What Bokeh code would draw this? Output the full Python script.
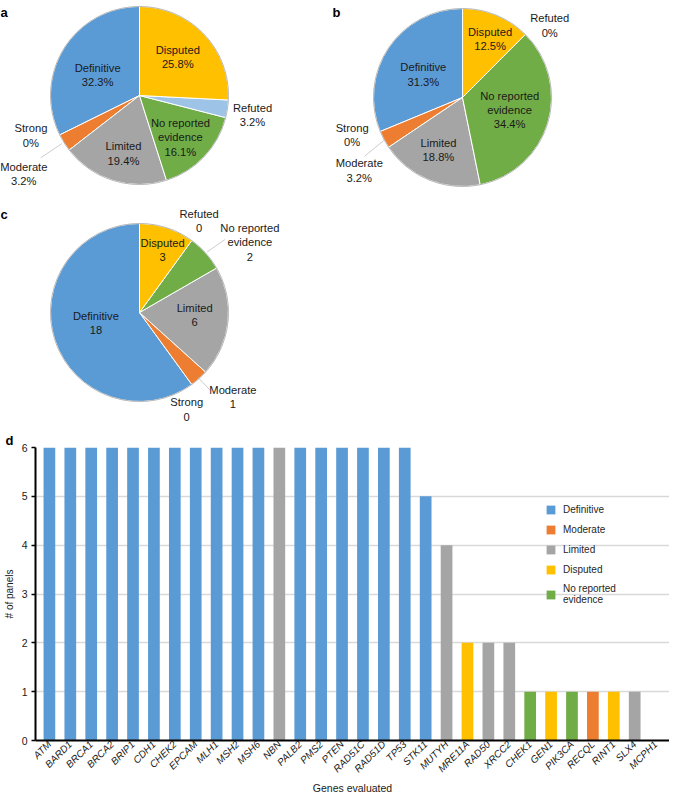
import math
from bokeh.plotting import figure
from bokeh.models import Range1d, FactorRange, ColumnDataSource, Legend, LegendItem, Label
from bokeh.layouts import column
from bokeh.embed import file_html
from bokeh.resources import INLINE

# ---------------- data ----------------
pie_categories = ["Definitive", "Strong", "Moderate", "Limited",
                  "No reported evidence", "Refuted", "Disputed"]
panel_a_pct = [32.3, 0, 3.2, 19.4, 16.1, 3.2, 25.8]
panel_b_pct = [31.3, 0, 3.2, 18.8, 34.4, 0, 12.5]
panel_c_counts = [18, 0, 1, 6, 2, 0, 3]

genes = ["ATM", "BARD1", "BRCA1", "BRCA2", "BRIP1", "CDH1", "CHEK2", "EPCAM",
         "MLH1", "MSH2", "MSH6", "NBN", "PALB2", "PMS2", "PTEN", "RAD51C",
         "RAD51D", "TP53", "STK11", "MUTYH", "MRE11A", "RAD50", "XRCC2",
         "CHEK1", "GEN1", "PIK3CA", "RECQL", "RINT1", "SLX4", "MCPH1"]
panels = [6, 6, 6, 6, 6, 6, 6, 6, 6, 6, 6, 6, 6, 6, 6, 6, 6, 6, 5, 4, 2, 2, 2,
          1, 1, 1, 1, 1, 1, 0]
evidence = ["Definitive"] * 11 + ["Limited"] + ["Definitive"] * 7 + [
    "Limited", "Disputed", "Limited", "Limited", "No reported evidence",
    "Disputed", "No reported evidence", "Moderate", "Disputed", "Limited",
    "Limited"]
legend_order = ["Definitive", "Moderate", "Limited", "Disputed",
                "No reported evidence"]
y_ticks = [0, 1, 2, 3, 4, 5, 6]

# ---------------- styles ----------------
colors = {"Definitive": "#5B9BD5", "Strong": "#264478", "Moderate": "#ED7D31",
          "Limited": "#A5A5A5", "No reported evidence": "#70AD47",
          "Refuted": "#9DC3E6", "Disputed": "#FFC000"}
display = {c: c for c in pie_categories}
display["No reported evidence"] = "No reported\nevidence"
FONT_NAME = "Liberation Sans"
TXT = "#1a1a1a"

TOP_W = 669
TOP_H = 430
BAR_H = 367

# layout of the pie panel (reference pixel coords -> data coords)
def X(rx):
    return rx

def Y(ry):
    return TOP_H - ry

R = 89
pie_layout = {
    "a": dict(center=(139, 95), letter=(0, 12),
              labels=[(-0.47, 0.23), (-1.22, -0.45), (-1.30, -0.88), (-0.18, -0.65),
                      (0.46, -0.47), (1.27, -0.22), (0.43, 0.43)],
              leaders=[((-1.11, -0.70), (-0.87, -0.54))]),
    "b": dict(center=(462, 97), letter=(332, 12),
              labels=[(-0.44, 0.26), (-1.24, -0.42), (-1.16, -0.82), (-0.27, -0.59),
                      (0.53, -0.14), (0.98, 0.81), (0.31, 0.66)],
              leaders=[((-1.10, -0.66), (-0.88, -0.48))]),
    "c": dict(center=(139, 312), letter=(0, 214),
              labels=[(-0.49, -0.12), (0.53, -1.09), (1.05, -0.95), (0.62, -0.03),
                      (1.24, 0.79), (0.67, 1.03), (0.26, 0.70)],
              leaders=[((0.66, -0.73), (0.79, -0.87)), ((0.76, 0.68), (0.96, 0.82))]),
}
pie_values = {
    "a": (panel_a_pct, [f"{v:g}%" for v in panel_a_pct]),
    "b": (panel_b_pct, [f"{v:g}%" for v in panel_b_pct]),
    "c": (panel_c_counts, [str(v) for v in panel_c_counts]),
}

top = figure(width=TOP_W, height=TOP_H, x_range=Range1d(0, TOP_W),
             y_range=Range1d(0, TOP_H), output_backend="svg", toolbar_location=None,
             tools="", min_border=0, x_axis_location=None, y_axis_location=None)
top.frame_align = False
top.grid.visible = False
top.outline_line_color = None

for key in ["a", "b", "c"]:
    vals, labs = pie_values[key]
    lay = pie_layout[key]
    cx, cy = X(lay["center"][0]), Y(lay["center"][1])
    total = float(sum(vals))
    starts, ends, cols = [], [], []
    acc = 0.0
    for cat, v in zip(pie_categories, vals):
        a0 = math.pi / 2 + 2 * math.pi * acc / total
        acc += v
        a1 = math.pi / 2 + 2 * math.pi * acc / total
        if v > 0:
            starts.append(a0)
            ends.append(a1)
            cols.append(colors[cat])
    src = ColumnDataSource(dict(x=[cx] * len(starts), y=[cy] * len(starts),
                                s=starts, e=ends, c=cols))
    top.wedge(x="x", y="y", radius=R, start_angle="s", end_angle="e",
              direction="anticlock", fill_color="c", line_color="white",
              line_width=1, source=src)
    top.circle(x=[cx], y=[cy], radius=R, fill_color=None, line_color="#A6A6A6",
               line_width=0.8)
    for (p0, p1) in lay["leaders"]:
        top.line(x=[cx + p0[0] * R, cx + p1[0] * R], y=[cy + p0[1] * R, cy + p1[1] * R],
                 line_color="#BFBFBF", line_width=0.8)
    for cat, lab, (dx, dy) in zip(pie_categories, labs, lay["labels"]):
        top.add_layout(Label(x=cx + dx * R, y=cy + dy * R, text=display[cat] + "\n" + lab,
                             text_align="center", text_baseline="middle",
                             text_font=FONT_NAME, text_font_size="11.2px",
                             text_color=TXT, text_line_height=1.2))
    lx, ly = lay["letter"]
    top.add_layout(Label(x=X(lx), y=Y(ly), text=key, text_align="left",
                         text_baseline="alphabetic", text_font=FONT_NAME,
                         text_font_size="13px", text_font_style="bold",
                         text_color="black"))

# ---------------- bar chart ----------------
bar = figure(width=TOP_W, height=BAR_H,
             x_range=FactorRange(factors=genes, range_padding=0.011),
             y_range=Range1d(0, 6), output_backend="svg", toolbar_location=None,
             tools="", min_border_left=30, min_border_right=0, min_border_top=17,
             min_border_bottom=56, title="d")
bar.frame_align = False
bar.title.text_font = FONT_NAME
bar.title.text_font_size = "13px"
bar.title.text_font_style = "bold"
bar.title.text_color = "black"
bar.title.align = "left"
bar.title.offset = -30
bar.title.standoff = 0
bar.outline_line_color = None
bar.xgrid.visible = False
bar.ygrid.grid_line_color = "#D9D9D9"
bar.ygrid.grid_line_width = 1.3
bar.yaxis.ticker = y_ticks

items = []
for cls in legend_order:
    idx = [i for i, e in enumerate(evidence) if e == cls]
    src = ColumnDataSource(dict(gene=[genes[i] for i in idx],
                                n=[panels[i] for i in idx]))
    r = bar.vbar(x="gene", top="n", width=0.56, source=src,
                 fill_color=colors[cls], line_color=None)
    items.append(LegendItem(label=display[cls], renderers=[r]))

legend = Legend(items=items, location=(510, 135), padding=0, margin=0,
                spacing=8, glyph_width=11, glyph_height=11, label_height=12,
                label_standoff=7, label_text_font=FONT_NAME, label_text_font_size="10px",
                label_text_color="#262626", background_fill_alpha=0,
                border_line_color=None)
bar.add_layout(legend)

for ax in (bar.xaxis, bar.yaxis):
    ax.axis_line_color = "black"
    ax.axis_line_width = 2
    ax.minor_tick_line_color = None
    ax.major_label_text_font = FONT_NAME
    ax.major_label_text_color = TXT
    ax.axis_label_text_font = FONT_NAME
    ax.axis_label_text_font_style = "normal"
    ax.axis_label_text_color = TXT

bar.xaxis.major_tick_out = 0
bar.xaxis.major_tick_in = 0
bar.xaxis.major_label_orientation = math.pi / 4
bar.xaxis.major_label_text_font_size = "10px"
bar.xaxis.major_label_text_font_style = "italic"
bar.xaxis.major_label_standoff = 2
bar.xaxis.axis_label = "Genes evaluated"
bar.xaxis.axis_label_text_font_size = "10.5px"
bar.xaxis.axis_label_standoff = 1

bar.yaxis.major_tick_out = 4
bar.yaxis.major_tick_in = 0
bar.yaxis.major_tick_line_color = "black"
bar.yaxis.major_tick_line_width = 1.5
bar.yaxis.major_label_text_font_size = "10.5px"
bar.yaxis.major_label_standoff = 4
bar.yaxis.axis_label = "# of panels"
bar.yaxis.axis_label_text_font_size = "10px"
bar.yaxis.axis_label_standoff = 4

layout = column(top, bar, spacing=0)
open("out.html", "w").write(file_html(layout, INLINE))
